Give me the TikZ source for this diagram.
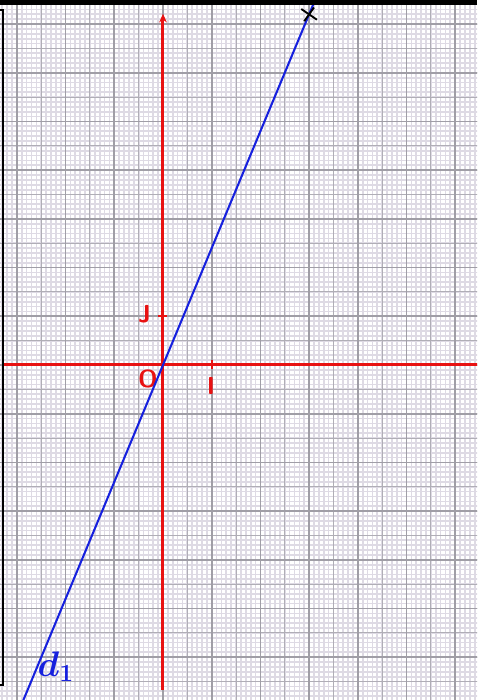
\documentclass[tikz,border=0pt]{standalone}
\usetikzlibrary{arrows.meta}
\definecolor{gridfine}{RGB}{222,218,228}
\definecolor{gridmid}{RGB}{176,174,182}
\definecolor{gridmain}{RGB}{160,158,166}
\definecolor{axisred}{RGB}{232,18,18}
\definecolor{lineblue}{RGB}{22,32,222}
\begin{document}
\begin{tikzpicture}[font=\sffamily\bfseries\Large,
  lbl/.style={text=axisred,inner sep=0pt},
  tickmark/.style={draw=axisred,line width=1.2pt}]
  \useasboundingbox (-3.347,-6.879) rectangle (6.448,7.495);
  \fill[white] (-3.347,-6.879) rectangle (6.448,7.495);
  \begin{scope}
    \clip (-3.347,-6.879) rectangle (6.448,7.495);
    % graph paper
    \draw[gridfine,line width=1pt,step=.1] (-3.4,-6.9) grid (6.5,7.5);
    \draw[gridmid,line width=.55pt,step=.5] (-3.4,-6.9) grid (6.5,7.5);
    \draw[gridmain,line width=1pt,step=1] (-3.4,-6.9) grid (6.5,7.5);
    % axes
    \coordinate (O) at (0,0);
    \coordinate (xl) at (-3.29,0);
    \coordinate (xr) at (6.5,0);
    \coordinate (yb) at (0,-6.67);
    \coordinate (yt) at (0,7.21);
    \draw[axisred,line width=1.75pt] (xl) -- (xr);
    \draw[axisred,line width=1.75pt,-{Stealth[length=5pt,width=4.5pt]}] (yb) -- (yt);
    \draw[tickmark] (1,-.08) -- (1,.1);
    \draw[tickmark] (-.1,1) -- (.08,1);
    \node[lbl] (lO) at (-.31,-.29) {O};
    \node[lbl] (lJ) at (-.38,1.05) {J};
    \node[lbl] (lI) at (.985,-.44) {I};
    % line d1 : y = 2.4x
    \coordinate (d1s) at (-2.9,-6.96);
    \coordinate (d1e) at (3.14,7.536);
    \draw[lineblue,line width=1.2pt] (d1s) -- (d1e);
    \node[text=lineblue,inner sep=0pt,font=\fontsize{20}{24}\selectfont\boldmath] (ld1) at (-2.2,-6.2) {$d_1$};
    % point
    \coordinate (M) at (3,7.2);
    \draw[black,line width=1.1pt] ([shift={(-.16,.11)}]M) -- ([shift={(.16,-.11)}]M);
    \draw[black,line width=1.1pt] ([shift={(-.1,-.14)}]M) -- ([shift={(.1,.14)}]M);
  \end{scope}
  % frame of the scan
  \fill[black] (-3.347,7.392) rectangle (6.448,7.495);
  \draw[black,line width=1.1pt] (-3.347,7.29) -- (-3.292,7.29) -- (-3.292,-6.57) -- (-3.347,-6.57);
\end{tikzpicture}
\end{document}
